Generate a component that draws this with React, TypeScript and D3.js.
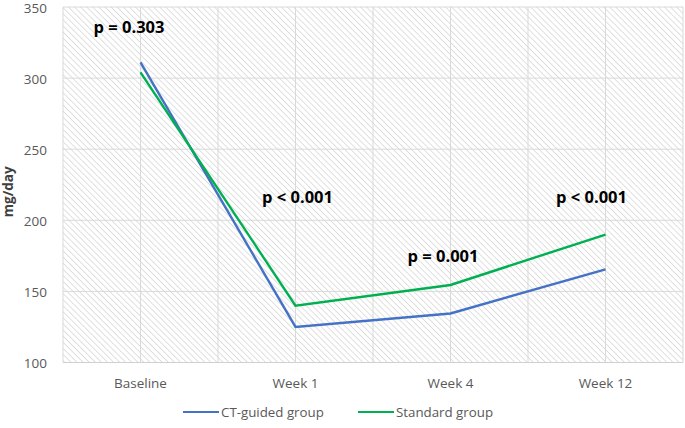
import React from "react";
import * as d3 from "d3";

const categories = ["Baseline", "Week 1", "Week 4", "Week 12"];
const ctGuided = [311, 125, 134.5, 165.5];
const standard = [304, 140, 154.5, 190];
const yTicks = [100, 150, 200, 250, 300, 350];
const pLabels = ["p = 0.303", "p < 0.001", "p = 0.001", "p < 0.001"];
const pValuesY = [336, 216, 175, 216];
const pOffsetX = [-11.5, 2, -7.5, -14];

const W = 685, H = 428;
const m = { left: 63, right: 2, top: 7, bottom: 65.5 };

export default function App() {
  const x = d3.scaleBand<string>().domain(categories).range([m.left, W - m.right]);
  const y = d3.scaleLinear().domain([100, 350]).range([H - m.bottom, m.top]);
  const cx = (c: string) => (x(c) as number) + x.bandwidth() / 2;
  const line = d3.line<number>().x((_, i) => cx(categories[i])).y((d) => y(d));
  const font = "'Open Sans', 'Noto Sans', sans-serif";
  const vgrid: number[] = [];
  categories.forEach((c) => { vgrid.push(x(c) as number); vgrid.push(cx(c)); });
  vgrid.push(W - m.right);

  return (
    <svg width={W} height={H} style={{ position: "absolute", left: 0, top: 0, background: "#fff" }}>
      <defs>
        <pattern id="hatch" patternUnits="userSpaceOnUse" width={4.3} height={4.3} patternTransform="rotate(-45)">
          <rect width={4.3} height={4.3} fill="#fff" />
          <line x1={0} y1={0} x2={0} y2={4.3} stroke="#d6d6d6" strokeWidth={1.5} />
        </pattern>
      </defs>
      <rect x={m.left} y={m.top} width={W - m.right - m.left} height={H - m.bottom - m.top} fill="url(#hatch)" />
      {yTicks.map((t) => (
        <line key={"h" + t} x1={m.left} x2={W - m.right} y1={y(t)} y2={y(t)} stroke="#d9d9d9" strokeWidth={1} />
      ))}
      {vgrid.map((v, i) => (
        <line key={"v" + i} x1={v} x2={v} y1={m.top} y2={y(100)} stroke="#d9d9d9" strokeWidth={1} />
      ))}
      <line x1={m.left} x2={W - m.right} y1={y(100)} y2={y(100)} stroke="#d0d0d0" strokeWidth={1.2} />
      {yTicks.map((t) => (
        <text key={"yt" + t} x={m.left - 16} y={y(t) + 1} dy="0.35em" textAnchor="end" fontFamily={font} fontSize={13.5} fill="#595959">{t}</text>
      ))}
      {categories.map((c) => (
        <text key={"xt" + c} x={cx(c)} y={388} textAnchor="middle" fontFamily={font} fontSize={13.5} fill="#595959">{c}</text>
      ))}
      <text transform={`translate(13, ${(m.top + y(100)) / 2 + 7}) rotate(-90)`} textAnchor="middle" fontFamily={font} fontSize={13.5} fontWeight="bold" fill="#404040">mg/day</text>
      <path d={line(ctGuided) || ""} fill="none" stroke="#4472C4" strokeWidth={2.4} />
      <path d={line(standard) || ""} fill="none" stroke="#00B050" strokeWidth={2.4} />
      {categories.map((c, i) => (
        <text key={"p" + i} x={cx(c) + pOffsetX[i]} y={y(pValuesY[i])} dy="0.35em" textAnchor="middle" fontFamily={font} fontSize={16.5} fontWeight="bold" fill="#000">{pLabels[i]}</text>
      ))}
      <line x1={183} x2={219} y1={412} y2={412} stroke="#4472C4" strokeWidth={2.2} />
      <text x={221} y={412} dy="0.35em" fontFamily={font} fontSize={13.3} fill="#595959">CT-guided group</text>
      <line x1={358} x2={394} y1={412} y2={412} stroke="#00B050" strokeWidth={2.2} />
      <text x={396} y={412} dy="0.35em" fontFamily={font} fontSize={13.3} fill="#595959">Standard group</text>
    </svg>
  );
}
